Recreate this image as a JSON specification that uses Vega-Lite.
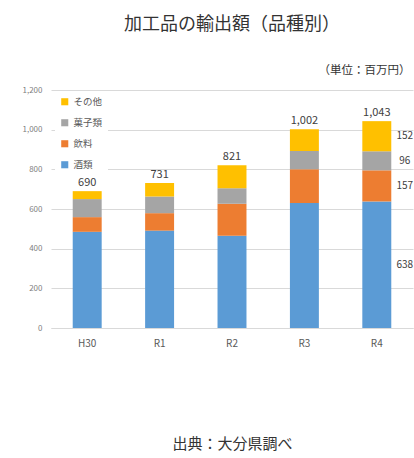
{
  "$schema": "https://vega.github.io/schema/vega-lite/v6.json",
  "width": 362,
  "height": 238,
  "autosize": {"type": "none"},
  "padding": {"left": 51, "top": 90, "right": 1, "bottom": 130},
  "background": "white",
  "config": {
    "font": "Noto Sans CJK JP",
    "view": {"stroke": null},
    "axisY": {
      "labelOverlap": false,
      "titleAngle": 0,
      "titleAlign": "right",
      "titleBaseline": "middle",
      "titleX": 359,
      "titleY": -20,
      "titleFontSize": 11.5,
      "titleFontWeight": "normal",
      "titleColor": "#333333",
      "labelFontSize": 8,
      "labelColor": "#808080",
      "labelPadding": 9,
      "ticks": false,
      "domain": false,
      "gridColor": "#d9d9d9"
    }
  },
  "title": {
    "text": "加工品の輸出額（品種別）",
    "anchor": "middle",
    "fontSize": 18,
    "fontWeight": "normal",
    "color": "#333333",
    "font": "Noto Sans CJK JP",
    "offset": 30
  },
  "data": {
    "values": [
      {"年度": "H30", "品目": "酒類", "順": 1, "金額": 485},
      {"年度": "H30", "品目": "飲料", "順": 2, "金額": 74},
      {"年度": "H30", "品目": "菓子類", "順": 3, "金額": 91},
      {"年度": "H30", "品目": "その他", "順": 4, "金額": 40},
      {"年度": "R1", "品目": "酒類", "順": 1, "金額": 491},
      {"年度": "R1", "品目": "飲料", "順": 2, "金額": 88},
      {"年度": "R1", "品目": "菓子類", "順": 3, "金額": 84},
      {"年度": "R1", "品目": "その他", "順": 4, "金額": 68},
      {"年度": "R2", "品目": "酒類", "順": 1, "金額": 465},
      {"年度": "R2", "品目": "飲料", "順": 2, "金額": 161},
      {"年度": "R2", "品目": "菓子類", "順": 3, "金額": 78},
      {"年度": "R2", "品目": "その他", "順": 4, "金額": 117},
      {"年度": "R3", "品目": "酒類", "順": 1, "金額": 630},
      {"年度": "R3", "品目": "飲料", "順": 2, "金額": 171},
      {"年度": "R3", "品目": "菓子類", "順": 3, "金額": 91},
      {"年度": "R3", "品目": "その他", "順": 4, "金額": 110},
      {"年度": "R4", "品目": "酒類", "順": 1, "金額": 638},
      {"年度": "R4", "品目": "飲料", "順": 2, "金額": 157},
      {"年度": "R4", "品目": "菓子類", "順": 3, "金額": 96},
      {"年度": "R4", "品目": "その他", "順": 4, "金額": 152}
    ]
  },
  "encoding": {
    "x": {
      "field": "年度",
      "type": "nominal",
      "sort": ["H30", "R1", "R2", "R3", "R4"],
      "scale": {"paddingInner": 0.6, "paddingOuter": 0.3},
      "axis": {
        "title": "出典：大分県調べ",
        "titleFontSize": 15,
        "titleFontWeight": "normal",
        "titleColor": "#333333",
        "titlePadding": 88,
        "labelAngle": 0,
        "labelFontSize": 10,
        "labelColor": "#595959",
        "labelPadding": 10,
        "ticks": false,
        "domainColor": "#d9d9d9",
        "grid": false
      }
    }
  },
  "layer": [
    {
      "mark": {"type": "bar"},
      "encoding": {
        "y": {
          "field": "金額",
          "type": "quantitative",
          "stack": "zero",
          "scale": {"domain": [0, 1200], "nice": false},
          "axis": {"values": [0, 200, 400, 600, 800, 1000, 1200], "format": ",d", "title": "（単位：百万円）"}
        },
        "color": {
          "field": "品目",
          "type": "nominal",
          "scale": {
            "domain": ["その他", "菓子類", "飲料", "酒類"],
            "range": ["#FFC000", "#A5A5A5", "#ED7D31", "#5B9BD5"]
          },
          "legend": {
            "orient": "none",
            "legendX": 4,
            "legendY": 2,
            "title": null,
            "symbolType": "square",
            "symbolSize": 50,
            "symbolStrokeWidth": 0,
            "labelFontSize": 9.5,
            "labelColor": "#595959",
            "rowPadding": 10,
            "padding": 5,
            "fillColor": "white"
          }
        },
        "order": {"field": "順", "type": "quantitative", "sort": "ascending"}
      }
    },
    {
      "mark": {"type": "text", "dy": -3, "baseline": "bottom", "fontSize": 11, "color": "#404040"},
      "encoding": {
        "y": {"aggregate": "sum", "field": "金額", "type": "quantitative", "axis": {"values": [0, 200, 400, 600, 800, 1000, 1200], "format": ",d", "title": "（単位：百万円）"}},
        "text": {"aggregate": "sum", "field": "金額", "type": "quantitative", "format": ","}
      }
    },
    {
      "transform": [{"filter": "datum['年度'] === 'R4'"}],
      "mark": {"type": "text", "dx": 28, "align": "center", "baseline": "middle", "fontSize": 10, "color": "#404040"},
      "encoding": {
        "y": {"field": "金額", "type": "quantitative", "stack": "zero", "bandPosition": 0.5, "axis": {"values": [0, 200, 400, 600, 800, 1000, 1200], "format": ",d", "title": "（単位：百万円）"}},
        "text": {"field": "金額", "type": "quantitative"},
        "order": {"field": "順", "type": "quantitative", "sort": "ascending"}
      }
    }
  ]
}
